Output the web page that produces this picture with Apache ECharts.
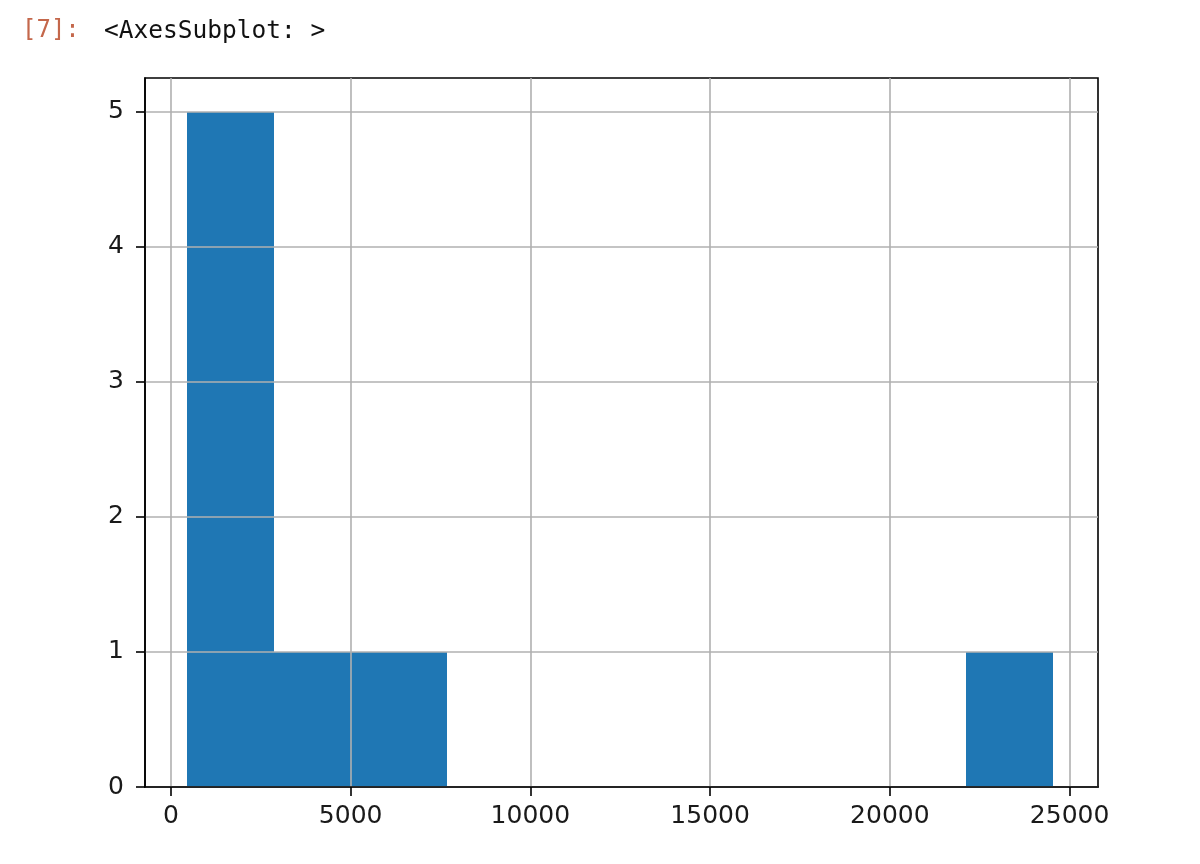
<!DOCTYPE html>
<html>
<head>
<meta charset="utf-8">
<script src="https://cdn.jsdelivr.net/npm/echarts@6/dist/echarts.min.js"></script>
<style>
html,body{margin:0;padding:0;background:#fff;}
#chart{width:1200px;height:864px;}
</style>
</head>
<body>
<div id="chart"></div>
<script>
// Histogram bin edges and counts per bin
const binEdges = [460, 2868, 5276, 7684, 10092, 12500, 14908, 17316, 19724, 22132, 24540];
const counts = [5, 1, 1, 0, 0, 0, 0, 0, 0, 1];
const xTicks = [0, 5000, 10000, 15000, 20000, 25000];
const yTicks = [0, 1, 2, 3, 4, 5];
const promptText = '[7]:';
const outputText = '<AxesSubplot: >';

const bins = counts.map((c, i) => [binEdges[i], binEdges[i + 1], c]);

const chart = echarts.init(document.getElementById('chart'), null, {renderer: 'canvas'});
const labelStyle = {color: '#1a1a1a', fontSize: 25, fontFamily: 'DejaVu Sans'};
chart.setOption({
  backgroundColor: '#ffffff',
  animation: false,
  graphic: [
    {type: 'text', left: 22, top: 19, z: 10, style: {text: promptText, fill: '#c4674b', font: '24px "DejaVu Sans Mono"'}},
    {type: 'text', left: 104, top: 19, z: 10, style: {text: outputText, fill: '#111111', font: '24.5px "DejaVu Sans Mono"'}}
  ],
  grid: {left: 145, top: 78, width: 953, height: 709, show: true, borderColor: '#000', borderWidth: 1.6, backgroundColor: 'transparent'},
  xAxis: {
    type: 'value', min: -720, max: 25790, z: 5,
    axisLine: {show: true, onZero: false, lineStyle: {color: '#000', width: 1.6}},
    axisTick: {show: true, inside: false, length: 9, lineStyle: {color: '#000', width: 1.6}, customValues: xTicks},
    axisLabel: {...labelStyle, margin: 17, customValues: xTicks, formatter: v => String(v)},
    splitLine: {show: true, lineStyle: {color: '#b0b0b0', width: 1.6}}
  },
  yAxis: {
    type: 'value', min: 0, max: 5.25, z: 5,
    axisLine: {show: true, onZero: false, lineStyle: {color: '#000', width: 1.6}},
    axisTick: {show: true, inside: false, length: 9, lineStyle: {color: '#000', width: 1.6}, customValues: yTicks},
    axisLabel: {...labelStyle, margin: 21, customValues: yTicks, formatter: v => String(v)},
    splitLine: {show: true, lineStyle: {color: '#b0b0b0', width: 1.6}}
  },
  series: [{
    type: 'custom',
    z: 2,
    data: bins,
    encode: {x: [0, 1], y: 2},
    renderItem: function (params, api) {
      const p0 = api.coord([api.value(0), api.value(2)]);
      const p1 = api.coord([api.value(1), 0]);
      const x0 = Math.round(p0[0]), x1 = Math.round(p1[0]);
      const y0 = Math.round(p0[1]), y1 = Math.round(p1[1]);
      return {
        type: 'rect',
        shape: {x: x0, y: y0, width: x1 - x0, height: y1 - y0},
        style: {fill: '#1f77b4'}
      };
    }
  }]
});
</script>
</body>
</html>
